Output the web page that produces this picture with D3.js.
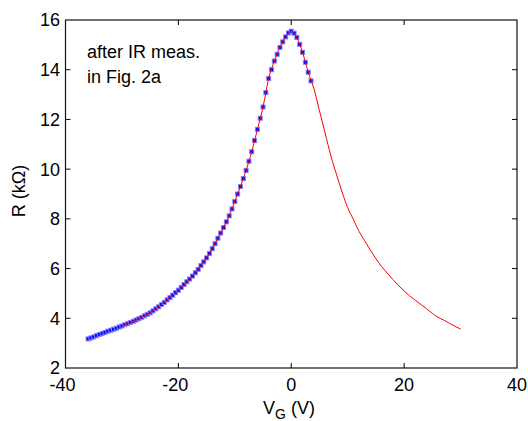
<!DOCTYPE html>
<html>
<head>
<meta charset="utf-8">
<script src="https://cdn.jsdelivr.net/npm/d3@7"></script>
<style>
    body { margin: 0; background: white; }
    text { font-family: "Liberation Sans", Arial, sans-serif; fill: #000; }
</style>
</head>
<body>
<div id="chart-div"></div>
<script>

// red trace (full sweep), V_G in V and R in kOhm
let redV = [-30, -29, -28, -27, -26, -25, -24, -23, -22, -21, -20, -19, -18, -17, -16, -15, -14, -13, -12, -11,
    -10, -9, -8, -7, -6, -5, -4, -3, -2, -1, 0, 1, 2, 3, 4, 5, 6, 7, 8, 9,
    10, 11, 12, 13, 14, 15, 16, 17, 18, 19, 20, 21, 22, 23, 24, 25, 26, 27, 28, 29, 30];
let redR = [3.69, 3.78, 3.88, 3.98, 4.10, 4.22, 4.38, 4.55, 4.74, 4.93, 5.13, 5.36, 5.58, 5.83, 6.12, 6.43, 6.80, 7.22, 7.65, 8.12,
    8.70, 9.30, 9.95, 10.70, 11.60, 12.50, 13.65, 14.35, 14.90, 15.32, 15.55, 15.30, 14.70, 13.90, 13.25, 12.35, 11.45, 10.55, 9.80, 9.08,
    8.45, 7.98, 7.50, 7.12, 6.75, 6.40, 6.08, 5.82, 5.56, 5.32, 5.10, 4.90, 4.72, 4.55, 4.38, 4.20, 4.04, 3.93, 3.80, 3.68, 3.57];

// blue points (measurement after IR)
let blueV = [-36, -35.5, -35, -34.5, -34, -33.5, -33, -32.5, -32, -31.5, -31, -30.5, -30, -29.5, -29, -28.5, -28, -27.5, -27, -26.5,
    -26, -25.5, -25, -24.5, -24, -23.5, -23, -22.5, -22, -21.5, -21, -20.5, -20, -19.5, -19, -18.5, -18, -17.5, -17, -16.5,
    -16, -15.5, -15, -14.5, -14, -13.5, -13, -12.5, -12, -11.5, -11, -10.5, -10, -9.5, -9, -8.5, -8, -7.5, -7, -6.5,
    -6, -5.5, -5, -4.5, -4, -3.5, -3, -2.5, -2, -1.5, -1, -0.5, 0, 0.5, 1, 1.5, 2, 2.5, 3, 3.5];
let blueR = [3.17, 3.21, 3.25, 3.30, 3.35, 3.39, 3.43, 3.48, 3.52, 3.56, 3.60, 3.65, 3.69, 3.74, 3.78, 3.83, 3.88, 3.93, 3.98, 4.04,
    4.10, 4.16, 4.22, 4.30, 4.38, 4.46, 4.55, 4.64, 4.74, 4.83, 4.93, 5.03, 5.13, 5.24, 5.36, 5.47, 5.58, 5.70, 5.83, 5.97,
    6.12, 6.27, 6.43, 6.61, 6.80, 7.00, 7.22, 7.43, 7.65, 7.88, 8.12, 8.40, 8.70, 9.00, 9.30, 9.62, 9.95, 10.32, 10.70, 11.15,
    11.60, 12.05, 12.50, 13.08, 13.65, 14.00, 14.35, 14.62, 14.90, 15.12, 15.32, 15.48, 15.55, 15.47, 15.30, 15.02, 14.70, 14.30, 13.90, 13.55];

let xTicks = [-40, -20, 0, 20, 40];
let yTicks = [2, 4, 6, 8, 10, 12, 14, 16];
let noteLines = ["after IR meas.", "in Fig. 2a"];


let width = 528, height = 421;
let margin = {top: 20, right: 11, bottom: 53, left: 65.5};

let svg = d3.select("#chart-div")
    .append("svg")
    .attr("width", width)
    .attr("height", height);

let x = d3.scaleLinear()
    .domain([-40, 40])
    .range([margin.left, width - margin.right]);

let y = d3.scaleLinear()
    .domain([2, 16])
    .range([height - margin.bottom, margin.top]);

// box
svg.append("rect")
    .attr("x", x(-40))
    .attr("y", y(16))
    .attr("width", x(40) - x(-40))
    .attr("height", y(2) - y(16))
    .attr("fill", "none")
    .attr("stroke", "#111")
    .attr("stroke-width", 1.2);

// inward ticks on all four sides
let tickLen = 5;
xTicks.slice(1, -1).forEach(t => {
    svg.append("line")
        .attr("x1", x(t)).attr("x2", x(t))
        .attr("y1", y(2)).attr("y2", y(2) - tickLen)
        .attr("stroke", "#000");
    svg.append("line")
        .attr("x1", x(t)).attr("x2", x(t))
        .attr("y1", y(16)).attr("y2", y(16) + tickLen)
        .attr("stroke", "#000");
});
yTicks.slice(1, -1).forEach(t => {
    svg.append("line")
        .attr("x1", x(-40)).attr("x2", x(-40) + tickLen)
        .attr("y1", y(t)).attr("y2", y(t))
        .attr("stroke", "#000");
    svg.append("line")
        .attr("x1", x(40)).attr("x2", x(40) - tickLen)
        .attr("y1", y(t)).attr("y2", y(t))
        .attr("stroke", "#000");
});

// tick labels
svg.selectAll(".xlab")
    .data(xTicks)
    .enter()
    .append("text")
    .attr("class", "xlab")
    .attr("x", d => d < 0 ? x(d) - 3 : x(d))
    .attr("y", 391)
    .attr("text-anchor", "middle")
    .attr("font-size", 18)
    .text(d => d);

svg.selectAll(".ylab")
    .data(yTicks)
    .enter()
    .append("text")
    .attr("class", "ylab")
    .attr("x", 60)
    .attr("y", d => y(d))
    .attr("dy", "0.36em")
    .attr("text-anchor", "end")
    .attr("font-size", 18)
    .text(d => d);

// axis titles
let xTitle = svg.append("text")
    .attr("x", 289)
    .attr("y", 414)
    .attr("text-anchor", "middle")
    .attr("font-size", 18);
xTitle.append("tspan").text("V");
xTitle.append("tspan").attr("dy", 5).attr("font-size", 14).text("G");
xTitle.append("tspan").attr("dy", -5).text(" (V)");

svg.append("text")
    .attr("transform", "translate(25,191) rotate(-90)")
    .attr("text-anchor", "middle")
    .attr("font-size", 18)
    .text("R (kΩ)");

// annotation
noteLines.forEach((s, i) => {
    svg.append("text")
        .attr("x", 87)
        .attr("y", 58 + i * 24.5)
        .attr("font-size", 18)
        .text(s);
});

// blue markers
svg.selectAll(".pt")
    .data(blueV.map((v, i) => [v, blueR[i]]))
    .enter()
    .append("rect")
    .attr("class", "pt")
    .attr("x", d => x(d[0]) - 2)
    .attr("y", d => y(d[1]) - 2)
    .attr("width", 4)
    .attr("height", 4)
    .attr("fill", "#0000ff")
    .attr("stroke", "#8080ff")
    .attr("stroke-width", 1);

// red line on top
let line = d3.line()
    .x(d => x(d[0]))
    .y(d => y(d[1]))
    .curve(d3.curveMonotoneX);

svg.append("path")
    .datum(redV.map((v, i) => [v, redR[i]]))
    .attr("d", line)
    .attr("fill", "none")
    .attr("stroke", "#ff0000")
    .attr("stroke-width", 1);

</script>
</body>
</html>
